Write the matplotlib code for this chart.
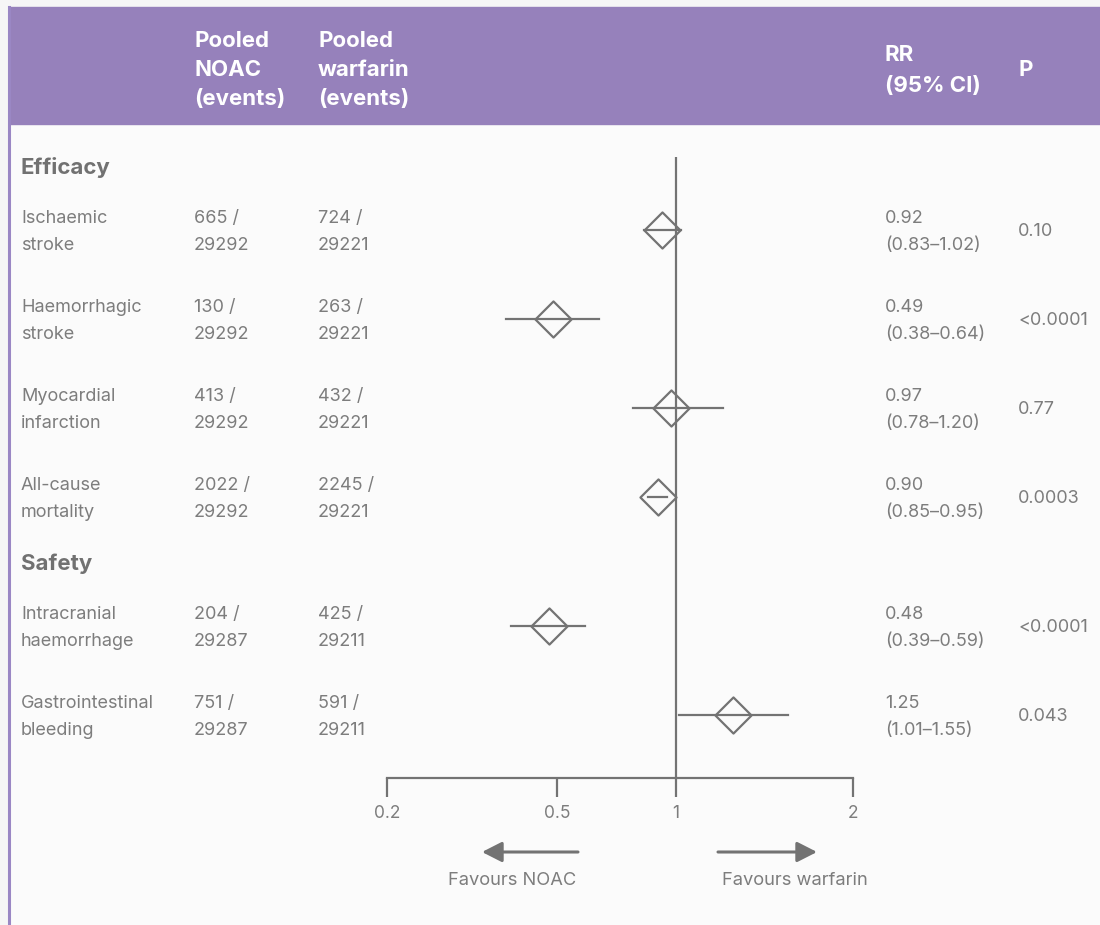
import matplotlib
matplotlib.use("Agg")
import matplotlib.pyplot as plt
import numpy as np
from matplotlib.path import Path
from matplotlib.patches import Rectangle

plt.rcParams['font.family'] = ['Inter', 'DejaVu Sans']

# ---- data ----
sections = ["Efficacy", "Efficacy", "Efficacy", "Efficacy", "Safety", "Safety"]
outcomes = [("Ischaemic", "stroke"), ("Haemorrhagic", "stroke"), ("Myocardial", "infarction"),
            ("All-cause", "mortality"), ("Intracranial", "haemorrhage"), ("Gastrointestinal", "bleeding")]
noac_events = [665, 130, 413, 2022, 204, 751]
noac_total = [29292, 29292, 29292, 29292, 29287, 29287]
warf_events = [724, 263, 432, 2245, 425, 591]
warf_total = [29221, 29221, 29221, 29221, 29211, 29211]
rr = [0.92, 0.49, 0.97, 0.90, 0.48, 1.25]
ci_low = [0.83, 0.38, 0.78, 0.85, 0.39, 1.01]
ci_high = [1.02, 0.64, 1.20, 0.95, 0.59, 1.55]
p_values = ["0.10", "<0.0001", "0.77", "0.0003", "<0.0001", "0.043"]
ticks = [0.2, 0.5, 1, 2]

purple = "#9681bb"
grey_txt = "#7d7d7d"
grey_line = "#737373"

W, H = 1100, 925
fig = plt.figure(figsize=(W / 100, H / 100), dpi=100)
fig.patch.set_facecolor("#f6f6f6")

# background axes in pixel coords (y down)
bg = fig.add_axes([0, 0, 1, 1])
bg.set_xlim(0, W)
bg.set_ylim(H, 0)
bg.axis("off")
bg.add_patch(Rectangle((9, 7), W - 9, H - 7, color="#fbfbfb", zorder=0))
bg.add_patch(Rectangle((9, 7), W - 9, 117, color=purple, zorder=1))
bg.plot([9, 9], [7, H], color="#9a87c4", lw=2.2, zorder=2)

# header
hdr = dict(color="white", fontsize=16, fontweight="bold", va="baseline", zorder=3)
for i, s in enumerate(["Pooled", "NOAC", "(events)"]):
    bg.text(194, 47 + 29 * i, s, **hdr)
for i, s in enumerate(["Pooled", "warfarin", "(events)"]):
    bg.text(318, 47 + 29 * i, s, **hdr)
bg.text(885, 61, "RR", **hdr)
bg.text(885, 92, "(95% CI)", **hdr)
bg.text(1018, 76, "P", **hdr)

# row layout
row_y = []
sec_y = {}
y = 166
prev = None
for s in sections:
    if s != prev:
        if prev is not None:
            y += 65 - 89
        sec_y[s] = y
        y += 64
        prev = s
    row_y.append(y)
    y += 89

body = dict(color=grey_txt, fontsize=13, va="baseline")
for s, sy in sec_y.items():
    bg.text(21, sy + 8, s, color="#717171", fontsize=16, fontweight="bold", va="baseline")

for i, ry in enumerate(row_y):
    l1, l2 = outcomes[i]
    bg.text(21, ry - 7, l1, **body)
    bg.text(21, ry + 20, l2, **body)
    bg.text(194, ry - 7, f"{noac_events[i]} /", **body)
    bg.text(194, ry + 20, str(noac_total[i]), **body)
    bg.text(318, ry - 7, f"{warf_events[i]} /", **body)
    bg.text(318, ry + 20, str(warf_total[i]), **body)
    bg.text(885, ry - 7, f"{rr[i]:.2f}", **body)
    bg.text(885, ry + 20, f"({ci_low[i]:.2f}\u2013{ci_high[i]:.2f})", **body)
    bg.text(1018, ry + 6, p_values[i], **body)

# forest axes, same pixel y coords
x0, x1, ytop, ybot = 387, 853, 157, 778
ax = fig.add_axes([x0 / W, (H - ybot) / H, (x1 - x0) / W, (ybot - ytop) / H])
ax.patch.set_alpha(0)
tick_pos = [0, 170, 289, 466]


def fwd(v):
    v = np.clip(np.asarray(v, dtype=float), 1e-6, None)
    return np.interp(np.log(v), np.log(ticks), tick_pos)


def inv(p):
    return np.exp(np.interp(p, tick_pos, np.log(ticks)))


ax.set_xscale("function", functions=(fwd, inv))
ax.set_xlim(0.2, 2)
ax.set_ylim(ybot, ytop)
for sp in ["top", "left", "right"]:
    ax.spines[sp].set_visible(False)
ax.spines["bottom"].set_color(grey_line)
ax.spines["bottom"].set_linewidth(1.6)
ax.set_yticks([])
ax.set_xticks(ticks)
ax.set_xticklabels(["0.2", "0.5", "1", "2"])
ax.xaxis.set_minor_locator(matplotlib.ticker.NullLocator())
ax.tick_params(axis="x", direction="out", length=13.7, width=1.6, color=grey_line,
               labelcolor=grey_txt, labelsize=12.5, pad=6)
ax.axvline(1, color=grey_line, lw=1.6, zorder=1)

diamond = Path([(0, 1), (1, 0), (0, -1), (-1, 0), (0, 1)],
               [Path.MOVETO, Path.LINETO, Path.LINETO, Path.LINETO, Path.CLOSEPOLY])
for i, ry in enumerate(row_y):
    ax.plot([ci_low[i], ci_high[i]], [ry, ry], color=grey_line, lw=1.6, clip_on=False, zorder=2)
    ax.plot([rr[i]], [ry], marker=diamond, markersize=26, markerfacecolor="none",
            markeredgecolor=grey_line, markeredgewidth=1.6, clip_on=False, zorder=3)

# favours arrows
arr = dict(arrowstyle="-|>,head_length=0.55,head_width=0.28", color=grey_line, lw=2.2,
           shrinkA=0, shrinkB=0, mutation_scale=22)
bg.annotate("", xy=(482, 852), xytext=(578, 852), arrowprops=arr)
bg.annotate("", xy=(817, 852), xytext=(718, 852), arrowprops=arr)
bg.text(512, 885, "Favours NOAC", color=grey_txt, fontsize=13.2, ha="center", va="baseline")
bg.text(795, 885, "Favours warfarin", color=grey_txt, fontsize=13.2, ha="center", va="baseline")

fig.savefig("out.png", dpi=100, facecolor=fig.get_facecolor())
